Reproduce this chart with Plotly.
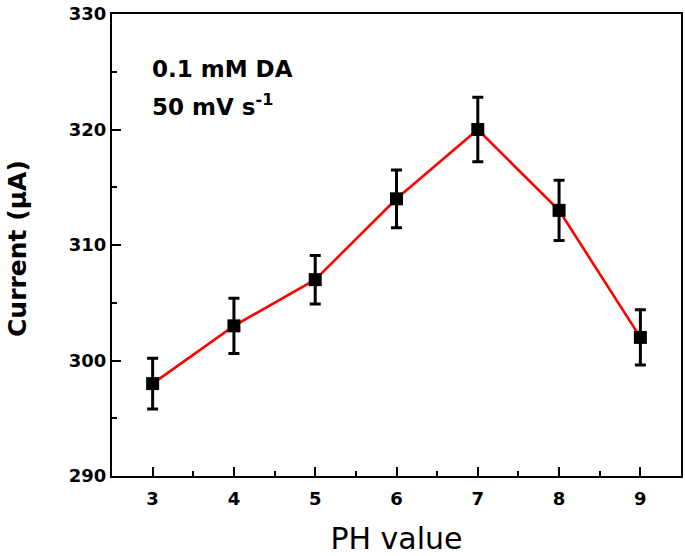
import plotly.graph_objects as go

ph = [3, 4, 5, 6, 7, 8, 9]
current = [298, 303, 307, 314, 320, 313, 302]
errors = [2.2, 2.4, 2.1, 2.5, 2.8, 2.6, 2.4]
x_ticks = [3, 4, 5, 6, 7, 8, 9]
y_ticks = [290, 300, 310, 320, 330]

FONT = "DejaVu Sans"

fig = go.Figure()
fig.add_trace(go.Scatter(
    x=ph, y=current, mode="lines", line=dict(color="#ff0000", width=2.6),
    hoverinfo="skip", showlegend=False))
fig.add_trace(go.Scatter(
    x=ph, y=current, mode="markers",
    marker=dict(symbol="square", size=13, color="black"),
    error_y=dict(type="data", array=errors, visible=True, color="black", thickness=3, width=5.5),
    showlegend=False))

axis_common = dict(
    showline=True, linecolor="black", linewidth=2, mirror=True,
    ticks="inside", ticklen=9, tickwidth=1.5, tickcolor="black",
    showgrid=False, zeroline=False, automargin=False,
    tickfont=dict(family=FONT, size=18, color="black", weight="bold"),
)

fig.update_xaxes(
    range=[2.5, 9.5], tickvals=x_ticks, ticktext=[str(v) for v in x_ticks],
    minor=dict(ticks="inside", ticklen=5, tickwidth=1.5, tickcolor="black", dtick=0.5, tick0=2.5, showgrid=False),
    title=dict(text="PH value", font=dict(family=FONT, size=30, color="black"), standoff=25),
    ticklabelstandoff=5,
    **axis_common)
fig.update_yaxes(
    range=[290, 330], tickvals=y_ticks, ticktext=[str(v) for v in y_ticks],
    minor=dict(ticks="inside", ticklen=5, tickwidth=1.5, tickcolor="black", dtick=5, tick0=290, showgrid=False),
    **axis_common)

fig.add_annotation(xref="paper", yref="paper", x=-0.167, y=0.4935, xanchor="center", yanchor="middle",
                   text="<b>Current (μA)</b>", textangle=-90, showarrow=False,
                   font=dict(family=FONT, size=25, color="black"))
fig.add_annotation(xref="x", yref="y", x=2.97, y=325.2, xanchor="left", yanchor="middle",
                   text="<b>0.1 mM DA</b>", showarrow=False,
                   font=dict(family=FONT, size=23, color="black"))
fig.add_annotation(xref="x", yref="y", x=2.97, y=322.1, xanchor="left", yanchor="middle",
                   text="<b>50 mV s<sup>-1</sup></b>", showarrow=False,
                   font=dict(family=FONT, size=23, color="black"))

fig.update_layout(
    width=685, height=556,
    margin=dict(l=112, r=4, t=14, b=80),
    paper_bgcolor="white", plot_bgcolor="white",
)

fig.write_html("out.html", config={"displayModeBar": False},
               post_script="document.body.style.margin='0';document.body.style.overflow='hidden';")
